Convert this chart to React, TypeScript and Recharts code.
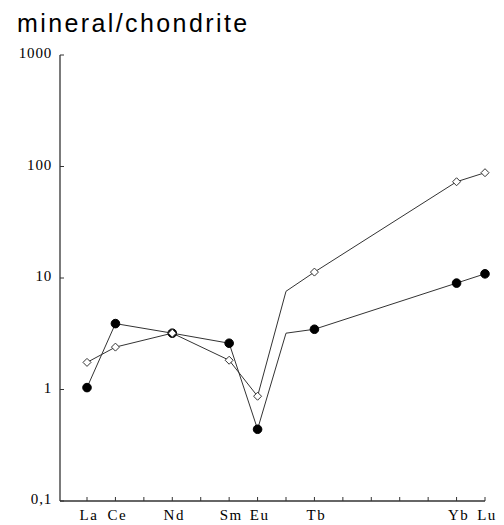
import React from 'react';
import { LineChart, Line, XAxis, YAxis } from 'recharts';

const ELEMENTS = ['La', 'Ce', 'Pr', 'Nd', 'Pm', 'Sm', 'Eu', 'Gd', 'Tb', 'Dy', 'Ho', 'Er', 'Tm', 'Yb', 'Lu'];
const LABELED = ['La', 'Ce', 'Nd', 'Sm', 'Eu', 'Tb', 'Yb', 'Lu'];
const PLOTTED = ['La', 'Ce', 'Nd', 'Sm', 'Eu', 'Gd', 'Tb', 'Yb', 'Lu'];
const OPEN_VALUES = [1.75, 2.4, 3.2, 1.83, 0.87, 7.6, 11.3, 73, 88];
const FILLED_VALUES = [1.04, 3.9, 3.2, 2.6, 0.44, 3.2, 3.47, 9.0, 10.9];
const NO_MARKER = ['Gd'];
const Y_TICKS = [0.1, 1, 10, 100, 1000];
const Y_LABELS = ['0,1', '1', '10', '100', '1000'];
const TITLE = 'mineral/chondrite';

const data = PLOTTED.map((el, i) => ({
  el,
  x: ELEMENTS.indexOf(el),
  open: OPEN_VALUES[i],
  filled: FILLED_VALUES[i],
}));

const xTicks = ELEMENTS.map((_, i) => i);

const SERIF = '"Liberation Serif", "DejaVu Serif", serif';
const STROKE = '#333';

const XTick = (props: any) => {
  const { x, y, payload } = props;
  const name = ELEMENTS[payload.value];
  if (!LABELED.includes(name)) return <g />;
  return (
    <text x={x + 2} y={y} textAnchor="middle" fontFamily={SERIF} fontSize={15} fill="#000" letterSpacing={1.5}>
      {name}
    </text>
  );
};

const YTick = (props: any) => {
  const { x, y, payload } = props;
  const idx = Y_TICKS.indexOf(payload.value);
  return (
    <text x={x} y={y + 3} textAnchor="end" fontFamily={SERIF} fontSize={15} fill="#000" letterSpacing={0.8}>
      {idx >= 0 ? Y_LABELS[idx] : ''}
    </text>
  );
};

const FilledDot = (props: any) => {
  const { cx, cy, payload, index } = props;
  if (NO_MARKER.includes(payload.el)) return <g key={`f${index}`} />;
  return <circle key={`f${index}`} cx={cx} cy={cy} r={4.3} fill="#000" stroke="#000" strokeWidth={1} />;
};

const OpenDot = (props: any) => {
  const { cx, cy, payload, index } = props;
  if (NO_MARKER.includes(payload.el)) return <g key={`o${index}`} />;
  const s = 4;
  return (
    <polygon
      key={`o${index}`}
      points={`${cx},${cy - s} ${cx + s},${cy} ${cx},${cy + s} ${cx - s},${cy}`}
      fill="#fff"
      stroke="#333"
      strokeWidth={1}
    />
  );
};

export default function App() {
  return (
    <div style={{ position: 'absolute', left: 0, top: 0, width: 504, height: 525, background: '#fff' }}>
      <svg width={504} height={50} style={{ position: 'absolute', left: 0, top: 0 }}>
        <text x={17} y={32} fontFamily='"Liberation Sans", Arial, sans-serif' fontSize={25} letterSpacing={2.4} fill="#000">
          {TITLE}
        </text>
      </svg>
      <div style={{ position: 'absolute', left: 0, top: 0 }}>
        <LineChart width={504} height={525} data={data} margin={{ top: 55, right: 19, left: 0, bottom: 0 }}>
          <XAxis
            dataKey="x"
            type="number"
            domain={[-0.95, 14]}
            ticks={xTicks}
            height={24}
            tickSize={-4}
            tickMargin={23}
            tick={<XTick />}
            axisLine={{ stroke: STROKE, strokeWidth: 1.3 }}
            tickLine={{ stroke: STROKE }}
            interval={0}
          />
          <YAxis
            type="number"
            scale="log"
            domain={[0.1, 1000]}
            ticks={Y_TICKS}
            width={60}
            tickSize={-4}
            tickMargin={12}
            tick={<YTick />}
            axisLine={{ stroke: STROKE, strokeWidth: 1.3 }}
            tickLine={{ stroke: STROKE }}
            interval={0}
          />
          <Line
            dataKey="filled"
            stroke={STROKE}
            strokeWidth={1}
            dot={FilledDot}
            activeDot={false}
            isAnimationActive={false}
            connectNulls
          />
          <Line
            dataKey="open"
            stroke={STROKE}
            strokeWidth={1}
            dot={OpenDot}
            activeDot={false}
            isAnimationActive={false}
            connectNulls
          />
        </LineChart>
      </div>
    </div>
  );
}
